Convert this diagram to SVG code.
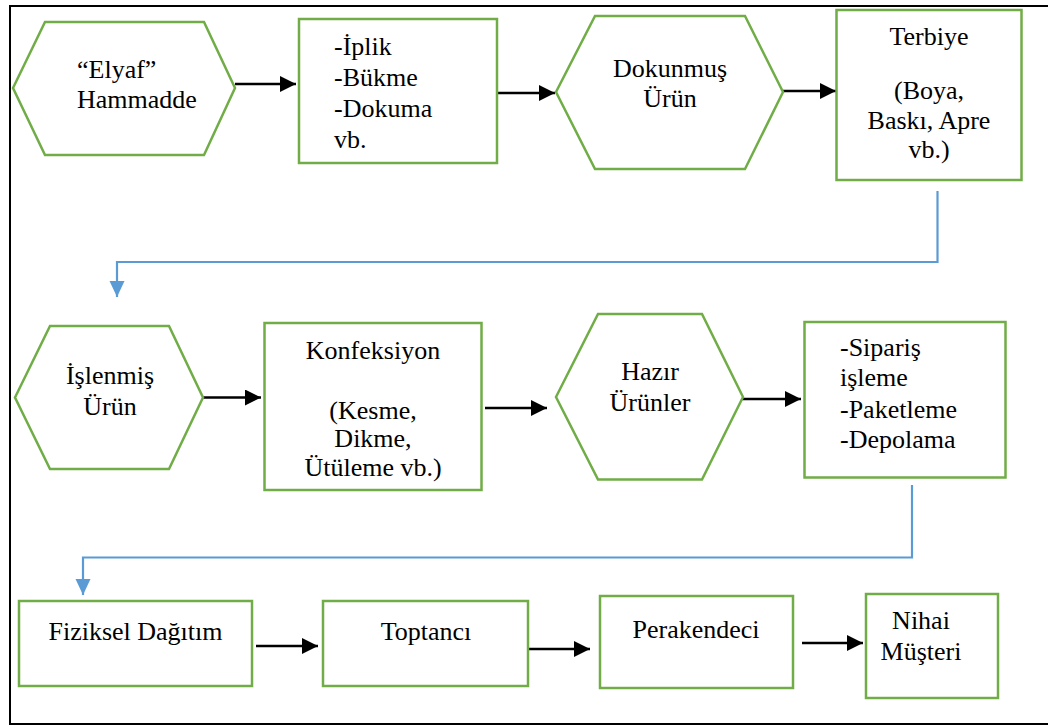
<svg xmlns="http://www.w3.org/2000/svg" width="1048" height="726" viewBox="0 0 1048 726" font-family="Liberation Serif, Times New Roman, Tinos, DejaVu Serif, serif">
<style>
.n{fill:#fff;stroke:#70AD47;stroke-width:2.5}
.t{font-family:'Liberation Serif','Times New Roman',Tinos,'DejaVu Serif',serif;font-size:26px;fill:#000}
.c{text-anchor:middle}
.a{stroke:#000;stroke-width:2.5;fill:none}
.b{stroke:#5B9BD5;stroke-width:2.2;fill:none}
</style>
<defs>
<marker id="ah" viewBox="0 0 16 16" refX="16" refY="8" markerWidth="16" markerHeight="16" markerUnits="userSpaceOnUse" orient="auto"><path d="M0,0 L16,8 L0,16 Z" fill="#000"/></marker>
<marker id="bh" viewBox="0 0 16 16" refX="16" refY="8" markerWidth="16" markerHeight="16" markerUnits="userSpaceOnUse" orient="auto"><path d="M0,0.5 L16,8 L0,15.5 Z" fill="#5B9BD5"/></marker>
</defs>
<rect width="1048" height="726" fill="#fff"/>
<path d="M1050,6 L10,6 L10,724 L1050,724" fill="none" stroke="#000" stroke-width="2"/>
<g id="connectors">
<line class="a" x1="235" y1="84" x2="296" y2="84" marker-end="url(#ah)"/>
<line class="a" x1="494" y1="93" x2="555" y2="93" marker-end="url(#ah)"/>
<line class="a" x1="778" y1="91" x2="836" y2="91" marker-end="url(#ah)"/>
<line class="a" x1="200" y1="397.5" x2="261" y2="397.5" marker-end="url(#ah)"/>
<line class="a" x1="485" y1="408" x2="547" y2="408" marker-end="url(#ah)"/>
<line class="a" x1="740" y1="399" x2="801" y2="399" marker-end="url(#ah)"/>
<line class="a" x1="256" y1="646" x2="318" y2="646" marker-end="url(#ah)"/>
<line class="a" x1="528" y1="649" x2="590" y2="649" marker-end="url(#ah)"/>
<line class="a" x1="802" y1="643" x2="863" y2="643" marker-end="url(#ah)"/>
<path class="b" d="M937.5,191 L937.5,262 L117,262 L117,297" marker-end="url(#bh)"/>
<path class="b" d="M912,485 L912,557.5 L83,557.5 L83,595" marker-end="url(#bh)"/>
</g>
<g id="elyaf">
<polygon class="n" points="13,88 45,22 204,22 235,88 204,155 45,155"/>
<text class="t" x="77" y="78">“Elyaf”</text>
<text class="t" x="77" y="108">Hammadde</text>
</g>
<g id="iplik">
<rect class="n" x="299" y="19" width="198" height="144"/>
<text class="t" x="334" y="55">-İplik</text>
<text class="t" x="334" y="86">-Bükme</text>
<text class="t" x="334" y="117">-Dokuma</text>
<text class="t" x="334" y="148">vb.</text>
</g>
<g id="dokunmus">
<polygon class="n" points="556,92 595,16 745,16 783,92 745,169 595,169"/>
<text class="t c" x="670" y="77">Dokunmuş</text>
<text class="t c" x="670" y="107">Ürün</text>
</g>
<g id="terbiye">
<rect class="n" x="836.5" y="10" width="185" height="170"/>
<text class="t c" x="929" y="45">Terbiye</text>
<text class="t c" x="929" y="99">(Boya,</text>
<text class="t c" x="929" y="129">Baskı, Apre</text>
<text class="t c" x="929" y="158">vb.)</text>
</g>
<g id="islenmis">
<polygon class="n" points="15,397.5 50,326 169,326 203,397.5 169,469 50,469"/>
<text class="t c" x="110" y="384">İşlenmiş</text>
<text class="t c" x="110" y="415">Ürün</text>
</g>
<g id="konfeksiyon">
<rect class="n" x="264.5" y="323" width="217" height="167"/>
<text class="t c" x="373" y="358.5">Konfeksiyon</text>
<text class="t c" x="373" y="418.5">(Kesme,</text>
<text class="t c" x="373" y="447">Dikme,</text>
<text class="t c" x="373" y="475.5">Ütüleme vb.)</text>
</g>
<g id="hazir">
<polygon class="n" points="556,397 598,314 702,314 743,397 702,479.5 598,479.5"/>
<text class="t c" x="650" y="380">Hazır</text>
<text class="t c" x="650" y="411">Ürünler</text>
</g>
<g id="siparis">
<rect class="n" x="804.5" y="322" width="201" height="155.5"/>
<text class="t" x="840" y="356">-Sipariş</text>
<text class="t" x="840" y="386">işleme</text>
<text class="t" x="840" y="418">-Paketleme</text>
<text class="t" x="840" y="448">-Depolama</text>
</g>
<g id="fiziksel">
<rect class="n" x="19" y="601" width="233" height="85"/>
<text class="t c" x="135.5" y="640">Fiziksel Dağıtım</text>
</g>
<g id="toptanci">
<rect class="n" x="323" y="601" width="205" height="85"/>
<text class="t c" x="426" y="640">Toptancı</text>
</g>
<g id="perakendeci">
<rect class="n" x="600" y="596" width="193" height="92"/>
<text class="t c" x="696" y="638">Perakendeci</text>
</g>
<g id="nihai">
<rect class="n" x="866" y="594" width="132" height="104"/>
<text class="t c" x="921" y="629">Nihai</text>
<text class="t c" x="921" y="660">Müşteri</text>
</g>
</svg>
